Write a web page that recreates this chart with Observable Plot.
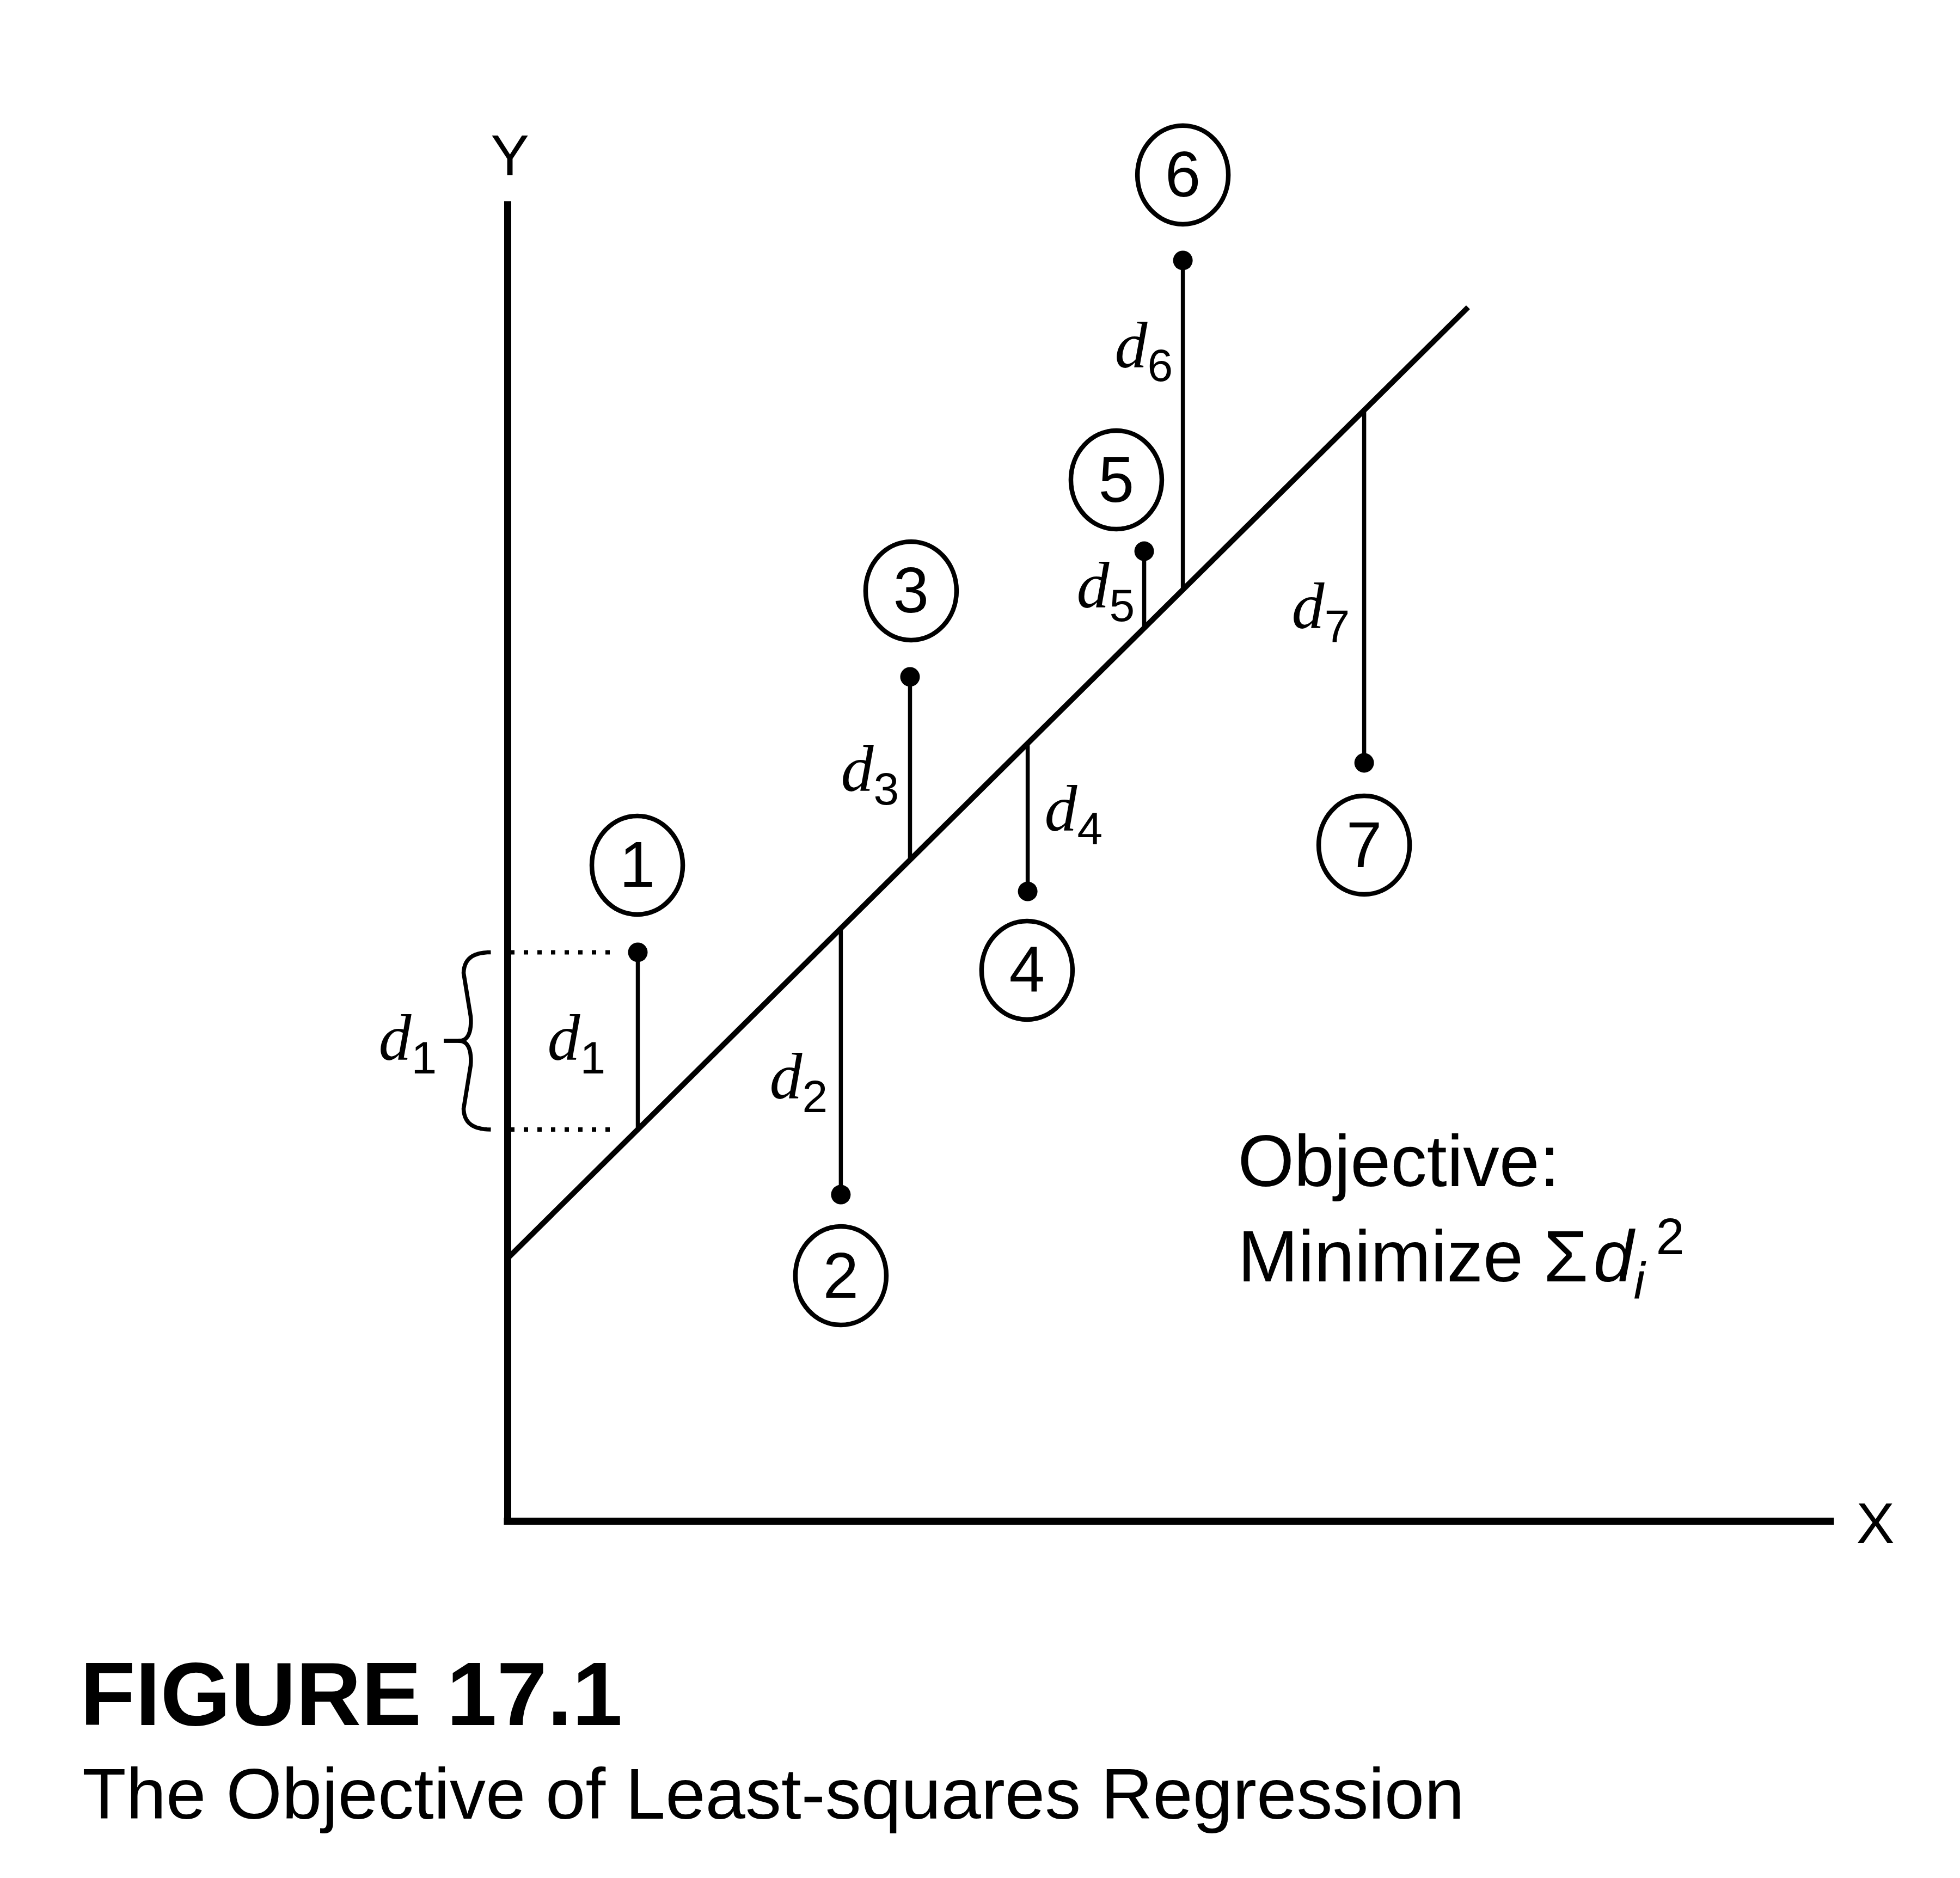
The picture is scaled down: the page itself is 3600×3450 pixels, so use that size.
<!DOCTYPE html>
<html>
<head>
<meta charset="utf-8">
<script src="https://cdn.jsdelivr.net/npm/d3@7"></script>
<script src="https://cdn.jsdelivr.net/npm/@observablehq/plot@0.6"></script>
<style>
  html, body { margin: 0; padding: 0; background: #fff; }
  #wrap { position: relative; width: 3600px; height: 3450px; background: #fff; }
  .cap { position: absolute; font-family: "Liberation Sans", Arial, sans-serif; color: #000; line-height: 1; white-space: nowrap; }
</style>
</head>
<body>
<div id="wrap">
  <div id="chart"></div>
  <div class="cap" style="left:147px; top:3029px; font-size:166px; font-weight:bold;">FIGURE 17.1</div>
  <div class="cap" style="left:151px; top:3230px; font-size:132px;">The Objective of Least-squares Regression</div>
</div>
<script>
// ---------------- data (axis units 0..100) ----------------
const ids      = [1, 2, 3, 4, 5, 6, 7];
const xs       = [9.82, 25.14, 30.36, 39.24, 48.03, 50.95, 64.63];
const ys       = [43.06, 24.72, 63.91, 47.67, 73.42, 95.43, 57.40];
const fitted   = [29.65, 44.86, 50.05, 58.87, 67.59, 70.49, 84.08];
const lineX    = [0, 72.47];
const lineY    = [19.90, 91.88];

// ---------------- annotation placement (data units) ----------------
const circleX  = [9.78, 25.14, 30.44, 39.19, 45.93, 50.95, 64.63];
const circleY  = [49.65, 18.58, 70.42, 41.70, 78.82, 101.90, 51.17];
const dNames   = ["1", "1", "2", "3", "4", "5", "6", "7"];
const dLabX    = [-9.74, 3.00, 19.76, 25.14, 40.51, 42.93, 45.81, 59.16];
const dLabY    = [34.90, 34.90, 32.01, 55.29, 52.25, 69.18, 87.31, 67.61];

const points = ids.map((id, i) => ({id, x: xs[i], y: ys[i], fitted: fitted[i]}));
const regLine = lineX.map((x, i) => ({x, y: lineY[i]}));
const circles = ids.map((id, i) => ({id: String(id), x: circleX[i], y: circleY[i]}));
const dLabels = dNames.map((s, i) => ({sub: s, x: dLabX[i], y: dLabY[i]}));

// brace beside the y axis spanning d1
function cubic(p0, p1, p2, p3, n) {
  const out = [];
  for (let i = 0; i <= n; i++) {
    const t = i / n, u = 1 - t;
    out.push([
      u*u*u*p0[0] + 3*u*u*t*p1[0] + 3*u*t*t*p2[0] + t*t*t*p3[0],
      u*u*u*p0[1] + 3*u*u*t*p1[1] + 3*u*t*t*p2[1] + t*t*t*p3[1]
    ]);
  }
  return out;
}
function brace(top, bot) {
  const kx = 24.34, ky = 24.27; // px per axis unit
  const mid = (top + bot) / 2;
  const X = px => px / kx;
  const up = [
    ...cubic([X(-31), top], [X(-64), top], [X(-80), top - 12/ky], [X(-81), top - 38/ky], 14),
    ...cubic([X(-68), mid + 45/ky], [X(-66), mid + 18/ky], [X(-72), mid], [X(-89), mid], 12)
  ];
  const low = up.slice().reverse().map(([x, y]) => [x, 2*mid - y]);
  return [...up, ...low].map(([x, y]) => ({x, y}));
}
const p1 = points[0];
const braceMid = (p1.y + p1.fitted) / 2;

const ellipse = {
  draw(ctx, size) {
    const r = Math.sqrt(size / Math.PI);
    const rx = r, ry = r * 1.084, k = 0.5523;
    ctx.moveTo(rx, 0);
    ctx.bezierCurveTo(rx, k*ry, k*rx, ry, 0, ry);
    ctx.bezierCurveTo(-k*rx, ry, -rx, k*ry, -rx, 0);
    ctx.bezierCurveTo(-rx, -k*ry, -k*rx, -ry, 0, -ry);
    ctx.bezierCurveTo(k*rx, -ry, rx, -k*ry, rx, 0);
    ctx.closePath();
  }
};

const SANS = "Liberation Sans, Arial, Helvetica, sans-serif";
const SERIF = "Liberation Serif, Times New Roman, serif";

const chart = Plot.plot({
  width: 3600,
  height: 2950,
  marginLeft: 932,
  marginRight: 234,
  marginTop: 367,
  marginBottom: 156,
  x: {domain: [0, 100], axis: null},
  y: {domain: [0, 100], axis: null},
  style: {background: "white", color: "black", overflow: "visible"},
  marks: [
    // axes
    Plot.ruleX([0], {y1: 0, y2: 99.9, strokeWidth: 13, stroke: "black"}),
    Plot.ruleY([0], {x1: -0.27, x2: 100.1, strokeWidth: 13, stroke: "black"}),
    Plot.text(["Y"], {x: 0, y: 100, text: d => d, dx: 4, dy: -46, lineAnchor: "bottom", textAnchor: "middle", fontFamily: SANS, fontSize: 106, fill: "black"}),
    Plot.text(["X"], {x: 100, y: 0, text: d => d, dx: 78, dy: 40, lineAnchor: "bottom", textAnchor: "middle", fontFamily: SANS, fontSize: 106, fill: "black"}),

    // dotted guides and brace for d1
    Plot.ruleY([p1.y, p1.fitted], {x1: 0, x2: 7.8, strokeWidth: 8, stroke: "black", strokeDasharray: "8,17", strokeDashoffset: -5}),
    Plot.line(brace(p1.y, p1.fitted), {x: "x", y: "y", strokeWidth: 7.5, stroke: "black", curve: "linear", strokeLinecap: "butt"}),
    Plot.ruleY([braceMid], {x1: -117 / 24.34, x2: -86 / 24.34, strokeWidth: 7.5, stroke: "black"}),

    // regression line
    Plot.line(regLine, {x: "x", y: "y", strokeWidth: 10, stroke: "black", strokeLinecap: "butt"}),

    // residuals
    Plot.ruleX(points, {x: "x", y1: "fitted", y2: "y", strokeWidth: 7.5, stroke: "black"}),
    Plot.dot(points, {x: "x", y: "y", r: 18, fill: "black", stroke: "none"}),

    // numbered circles
    Plot.dot(circles, {x: "x", y: "y", r: 83.5, symbol: ellipse, fill: "none", stroke: "black", strokeWidth: 8.5}),
    Plot.text(circles, {x: "x", y: "y", text: "id", dy: 40, lineAnchor: "bottom", textAnchor: "middle", fontFamily: SANS, fontSize: 118, fill: "black"}),

    // d labels
    Plot.text(dLabels, {x: "x", y: "y", text: () => "d", lineAnchor: "bottom", textAnchor: "start", fontFamily: SERIF, fontStyle: "italic", fontSize: 120, fill: "black"}),
    Plot.text(dLabels, {x: "x", y: "y", text: "sub", dx: 60, dy: 25, lineAnchor: "bottom", textAnchor: "start", fontFamily: SANS, fontSize: 84, fill: "black"}),

    // objective text
    Plot.text(["Objective:"], {x: 55.09, y: 25.34, text: d => d, lineAnchor: "bottom", textAnchor: "start", fontFamily: SANS, fontSize: 133, fill: "black"}),
    Plot.text(["Minimize \u03A3"], {x: 55.09, y: 18.13, text: d => d, lineAnchor: "bottom", textAnchor: "start", fontFamily: SANS, fontSize: 133, fill: "black"}),
    Plot.text(["d"], {x: 81.92, y: 18.13, text: d => d, lineAnchor: "bottom", textAnchor: "start", fontFamily: SANS, fontStyle: "italic", fontSize: 133, fill: "black"}),
    Plot.text(["i"], {x: 84.96, y: 16.85, text: d => d, lineAnchor: "bottom", textAnchor: "start", fontFamily: SANS, fontStyle: "italic", fontSize: 94, fill: "black"}),
    Plot.text(["2"], {x: 86.65, y: 20.23, text: d => d, lineAnchor: "bottom", textAnchor: "start", fontFamily: SANS, fontSize: 94, fill: "black"})
  ]
});
document.getElementById("chart").appendChild(chart);
</script>
</body>
</html>
